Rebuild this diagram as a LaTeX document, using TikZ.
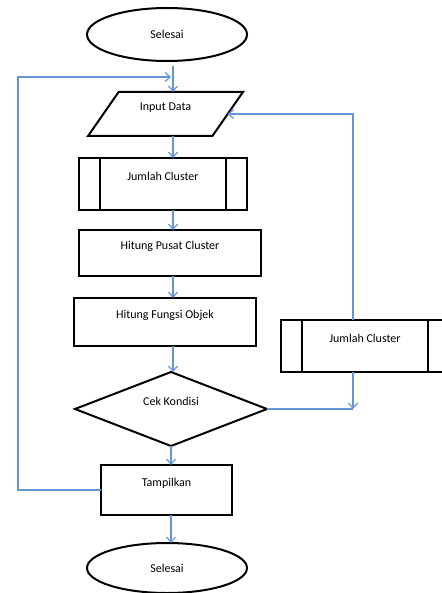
\documentclass[tikz,border=0pt]{standalone}
\usepackage{fontspec}
\setmainfont{Carlito}
\usetikzlibrary{positioning,shapes.geometric,arrows.meta,calc}
\definecolor{flowblue}{RGB}{100,150,215}
\tikzset{
  base/.style={draw, line width=2pt, inner sep=0pt, outer sep=0pt, font=\fontsize{12}{14}\selectfont},
  raised/.style={text height=8pt, text depth=15pt},
  terminal/.style={base, ellipse, minimum width=160pt, minimum height=53pt},
  iobox/.style={base, raised, trapezium, trapezium left angle=54, trapezium right angle=126,
    trapezium stretches=true, minimum width=155pt, minimum height=44pt},
  procbox/.style={base, raised, rectangle},
  predef/.style={procbox, minimum width=168pt, minimum height=52pt},
  decision/.style={base, raised, diamond, aspect=2.6, minimum width=192pt, minimum height=74pt},
  link/.style={flowblue, line width=1.2pt},
  flow/.style={link, -{Straight Barb[length=5pt,width=9pt]}}
}
\begin{document}
\begin{tikzpicture}[x=1pt, y=-1pt]
    \useasboundingbox (0,0) rectangle (441,593);

    % Nodes
    \node[terminal] (start) at (167,34.5) {Selesai};
    \node[iobox] (input) at (165.5,114) {Input Data};
    \node[predef] (jumlah) at (163,184) {Jumlah Cluster};
    \node[procbox, minimum width=182pt, minimum height=46pt] (pusat) at (170,253) {Hitung Pusat Cluster};
    \node[procbox, minimum width=182pt, minimum height=48pt] (fungsi) at (165,322) {Hitung Fungsi Objek};
    \node[decision] (cek) at (171,409) {Cek Kondisi};
    \node[predef] (jumlah-r) at (365,346) {Jumlah Cluster};
    \node[procbox, minimum width=131pt, minimum height=50pt] (tampil) at (166.5,490) {Tampilkan};
    \node[terminal, minimum height=50pt] (finish) at (167,568) {Selesai};

    \coordinate (col) at (173,0);
    \coordinate (left-top) at (171,77);
    \coordinate (left-side) at (18,0);
    \coordinate (right-join) at (353,409);

    % sisi proses terdefinisi
    \foreach \b in {jumlah, jumlah-r} {
      \draw[line width=2pt] ($(\b.north west)+(21,0)$) -- ($(\b.south west)+(21,0)$);
      \draw[line width=2pt] ($(\b.north east)+(-21,0)$) -- ($(\b.south east)+(-21,0)$);
    }

    % Lines
    \draw[flow] ($(start.south -| col)+(0,5)$) -- (input.north -| col);
    \draw[flow] (input.south -| col) -- (jumlah.north -| col);
    \draw[flow] (jumlah.south -| col) -- (pusat.north -| col);
    \draw[flow] (pusat.south -| col) -- (fungsi.north -| col);
    \draw[flow] (fungsi.south -| col) -- (cek.north -| col);
    \draw[flow] (cek.south) -- (tampil.north -| cek.south);
    \draw[flow] (tampil.south -| cek.south) -- (finish.north -| cek.south);

    \draw[flow] (tampil.west) -- (tampil.west -| left-side) |- (left-top);
    \draw[link] (cek.east) -- (right-join);
    \draw[flow] (right-join |- jumlah-r.south) -- (right-join);
    \draw[flow] (right-join |- jumlah-r.north) |- (input.east);

\end{tikzpicture}
\end{document}
